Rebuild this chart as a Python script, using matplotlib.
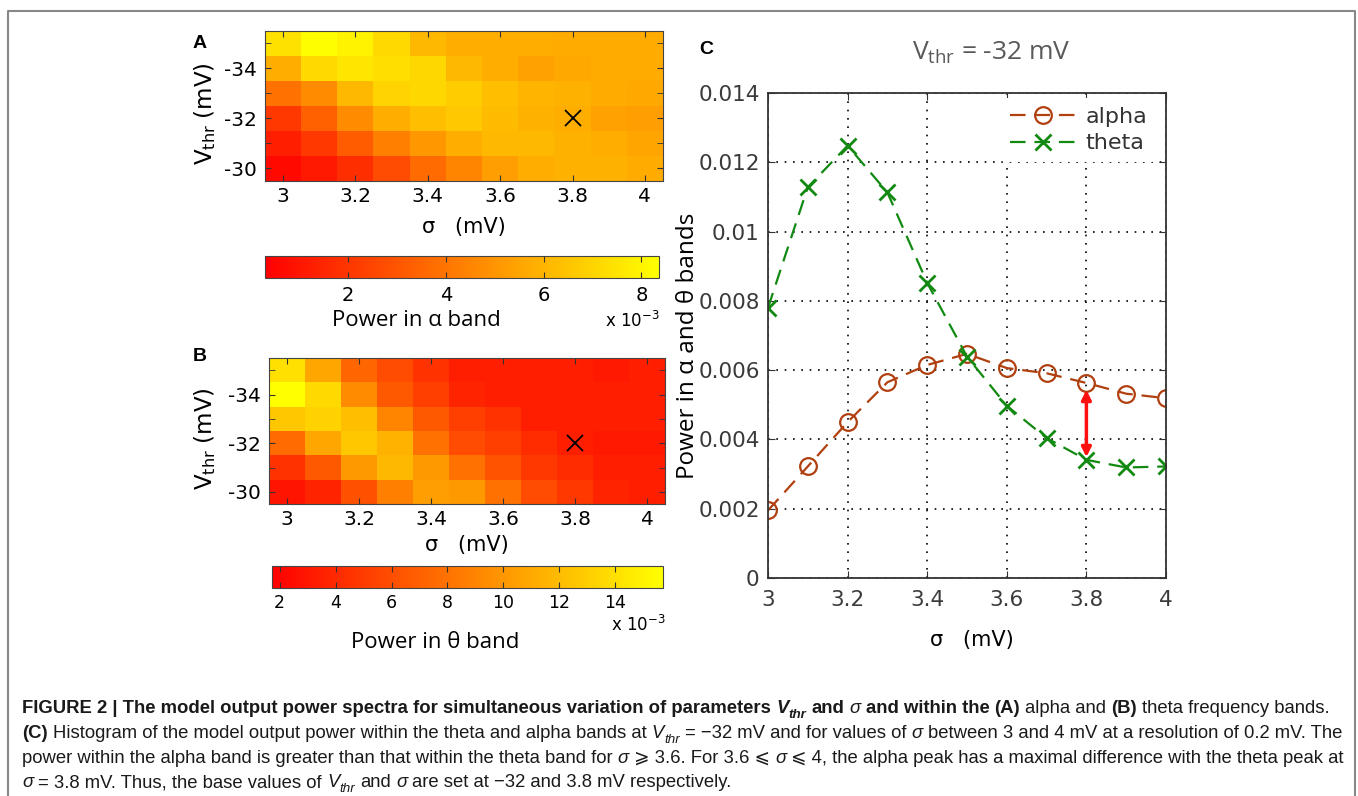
import matplotlib
matplotlib.use('Agg')
import matplotlib.pyplot as plt
from matplotlib.transforms import IdentityTransform
from matplotlib.font_manager import FontProperties
from matplotlib.lines import Line2D

W, H = 1358, 796

# grid of the parameter sweep
sigma = [3.0, 3.1, 3.2, 3.3, 3.4, 3.5, 3.6, 3.7, 3.8, 3.9, 4.0]
vthr = [-35, -34, -33, -32, -31, -30]

# power in alpha band (x 1e-3), rows = vthr, cols = sigma
alpha_map = [
    [7.4, 8.3, 8.0, 7.15, 6.1, 5.8, 5.8, 5.8, 5.7, 5.7, 5.7],
    [5.8, 7.15, 7.55, 7.3, 7.1, 6.1, 5.8, 5.4, 5.6, 5.7, 5.7],
    [3.9, 4.7, 6.1, 7.0, 7.1, 6.75, 6.3, 6.0, 5.9, 5.7, 5.6],
    [2.1, 3.4, 4.7, 5.8, 6.3, 6.6, 6.2, 5.9, 5.8, 5.4, 5.3],
    [1.3, 2.1, 3.2, 4.3, 5.1, 5.8, 6.1, 6.1, 5.9, 5.8, 5.5],
    [0.6, 1.1, 1.75, 2.7, 3.7, 4.5, 5.3, 5.8, 5.9, 5.9, 5.7],
]
# power in theta band (x 1e-3)
theta_map = [
    [14.0, 10.8, 7.3, 5.9, 4.5, 3.4, 3.4, 3.4, 3.4, 3.1, 3.4],
    [15.7, 13.6, 9.4, 6.6, 5.2, 3.8, 3.4, 3.4, 3.4, 3.4, 3.4],
    [12.6, 13.2, 12.2, 9.0, 6.6, 5.2, 4.5, 3.4, 3.4, 3.4, 3.4],
    [7.6, 10.8, 12.6, 11.5, 8.0, 5.9, 5.2, 4.2, 3.4, 3.1, 3.1],
    [4.5, 6.6, 10.1, 11.8, 10.1, 8.0, 6.3, 4.8, 4.2, 3.4, 3.4],
    [2.85, 3.8, 6.2, 8.7, 10.4, 10.1, 8.0, 5.9, 4.8, 3.8, 3.4],
]
alpha_range = (0.3, 8.36)
theta_range = (1.73, 15.7)

# panel C, Vthr = -32 mV
alpha_line = [0.00195, 0.00322, 0.0045, 0.00565, 0.00615, 0.00647, 0.00606, 0.00591, 0.00563, 0.00532, 0.00519]
theta_line = [0.0078, 0.01128, 0.01248, 0.01113, 0.00852, 0.00639, 0.00497, 0.00404, 0.00341, 0.00319, 0.00322]

base_sigma = 3.8
base_vthr = -32

map_xticks = [3, 3.2, 3.4, 3.6, 3.8, 4]
map_yticks = [-34, -32, -30]
cbar_a_ticks = [2, 4, 6, 8]
cbar_b_ticks = [2, 4, 6, 8, 10, 12, 14]
c_xticks = [3, 3.2, 3.4, 3.6, 3.8, 4]
c_yticks = [0, 0.002, 0.004, 0.006, 0.008, 0.01, 0.012, 0.014]

fig = plt.figure(figsize=(W / 100, H / 100), dpi=100)


def px_axes(x0, y0, x1, y1):
    return fig.add_axes([x0 / W, 1 - y1 / H, (x1 - x0) / W, (y1 - y0) / H])


def ftext(x, y, s, **kw):
    return fig.text(x / W, 1 - y / H, s, **kw)


def draw_map(ax, data, rng, xlab_y, ylab_x):
    im = ax.imshow(data, cmap='autumn', vmin=rng[0], vmax=rng[1], aspect='auto',
                   interpolation='nearest',
                   extent=[sigma[0] - 0.05, sigma[-1] + 0.05, vthr[-1] + 0.5, vthr[0] - 0.5])
    ax.set_xticks(map_xticks)
    ax.set_xticklabels(['%g' % v for v in map_xticks])
    ax.set_yticks(map_yticks)
    ax.set_yticklabels(['%g' % v for v in map_yticks])
    ax.set_yticks(vthr, minor=True)
    ax.tick_params(which='both', direction='in', top=True, right=True, length=4,
                   color='#333333', labelsize=14.5)
    ax.tick_params(axis='x', pad=4)
    ax.tick_params(axis='y', pad=6)
    for sp in ax.spines.values():
        sp.set_color('#444444')
    ax.plot(base_sigma, base_vthr, marker='x', ms=11, mew=1.3, color='k', ls='none')
    ax.set_xlabel('σ   (mV)', fontsize=15, va='center')
    ax.xaxis.set_label_coords(0.5, xlab_y)
    ax.set_ylabel(r'V$_{\mathregular{thr}}$ (mV)', fontsize=16.5, va='center')
    ax.yaxis.set_label_coords(ylab_x, 0.45)
    return im


def draw_cbar(im, box, ticks, size, pad):
    cax = px_axes(*box)
    cb = fig.colorbar(im, cax=cax, orientation='horizontal')
    cb.set_ticks(ticks)
    cb.set_ticklabels(['%g' % t for t in ticks])
    cax.tick_params(direction='in', top=True, bottom=True, length=4, color='#333333',
                    labelsize=size, pad=pad)
    cb.outline.set_edgecolor('#444444')
    return cb


# panel A
axA = px_axes(265, 31, 663, 181)
imA = draw_map(axA, alpha_map, alpha_range, -0.31, -0.151)
draw_cbar(imA, (265, 256, 659, 278), cbar_a_ticks, 14, 6)
ftext(416, 321, 'Power in α band', fontsize=16, family='Open Sans', ha='center', va='center')
ftext(632, 321, r'x 10$^{\mathregular{-3}}$', fontsize=12, ha='center', va='center')

# panel B
axB = px_axes(269, 358, 665, 504)
imB = draw_map(axB, theta_map, theta_range, -0.28, -0.162)
draw_cbar(imB, (272, 566, 663, 588), cbar_b_ticks, 12.5, 4)
ftext(638, 625, r'x 10$^{\mathregular{-3}}$', fontsize=12, ha='center', va='center')
ftext(435, 643, 'Power in θ band', fontsize=16, family='Open Sans', ha='center', va='center')

ftext(200, 44, 'A', fontsize=14, fontweight='bold', family='Liberation Sans', ha='center', va='center')
ftext(200, 356, 'B', fontsize=14, fontweight='bold', family='Liberation Sans', ha='center', va='center')
ftext(706, 50, 'C', fontsize=14, fontweight='bold', family='Liberation Sans', ha='center', va='center')

# panel C
axC = px_axes(768, 93, 1166, 578)
axC.plot(sigma, alpha_line, color='#B0400F', ls=(0, (7, 4)), lw=1.6, marker='o', ms=12,
         mfc='none', mew=1.6, label='alpha')
axC.plot(sigma, theta_line, color='#128A12', ls=(0, (7, 4)), lw=1.6, marker='x', ms=11,
         mew=2, label='theta')
i = sigma.index(base_sigma)
axC.annotate('', xy=(base_sigma, alpha_line[i]), xytext=(base_sigma, theta_line[i]),
             arrowprops=dict(arrowstyle='<|-|>', color='#FF1010', lw=2.5,
                             mutation_scale=14, shrinkA=2, shrinkB=5))
axC.set_xlim(sigma[0], sigma[-1])
axC.set_ylim(c_yticks[0], c_yticks[-1])
axC.set_xticks(c_xticks)
axC.set_xticklabels(['%g' % v for v in c_xticks])
axC.set_yticks(c_yticks)
axC.set_yticklabels(['%g' % v for v in c_yticks])
axC.grid(True, ls=(0, (1, 4)), color='k', lw=1.2)
axC.tick_params(direction='in', top=True, right=True, length=5, labelsize=15.5,
                labelcolor='#3a3a3a', color='#333333')
axC.tick_params(axis='x', pad=9)
axC.tick_params(axis='y', pad=6)
for sp in axC.spines.values():
    sp.set_color('#333333')
    sp.set_linewidth(1.3)
axC.set_xlabel('σ   (mV)', fontsize=15, va='center')
axC.xaxis.set_label_coords(0.513, -0.128)
axC.set_ylabel('Power in α and θ bands', fontsize=17.5, family='Open Sans', va='center')
axC.yaxis.set_label_coords(-0.201, 0.478)
leg = axC.legend(loc='upper right', bbox_to_anchor=(0.975, 0.99), borderaxespad=0,
                 fontsize=16, handlelength=3, frameon=True, framealpha=1,
                 edgecolor='none', facecolor='white', labelspacing=0.3, handletextpad=0.4)
for t in leg.get_texts():
    t.set_color('#333333')
ftext(991, 53, r'V$_{\mathregular{thr}}$ = -32 mV', fontsize=19, family='Open Sans',
      color='#595959', ha='center', va='center')

# frame around figure + caption
fig.add_artist(Line2D([8 / W, 8 / W, 1355 / W, 1355 / W], [0, 1 - 11 / H, 1 - 11 / H, 0],
                      transform=fig.transFigure, color='#888888', lw=1.5))

# caption, drawn run by run
cap_size = 13.35
cap_lines = [
    [("FIGURE 2 | The model output power spectra for simultaneous variation of parameters ", 'b'),
     ("V", 'bi'), ("thr", 'bis'), (" and ", 'b'), ("σ", 'i'), (" and within the ", 'b'),
     ("(A)", 'b'), (" alpha and ", 'r'), ("(B)", 'b'), (" theta frequency bands.", 'r')],
    [("(C)", 'b'), (" Histogram of the model output power within the theta and alpha bands at ", 'r'),
     ("V", 'i'), ("thr", 'is'), (" = −32 mV and for values of ", 'r'), ("σ", 'i'),
     (" between 3 and 4 mV at a resolution of 0.2 mV. The", 'r')],
    [("power within the alpha band is greater than that within the theta band for ", 'r'),
     ("σ", 'i'), (" ⩾ 3.6. For 3.6 ⩽ ", 'r'), ("σ", 'i'),
     (" ⩽ 4, the alpha peak has a maximal difference with the theta peak at", 'r')],
    [("σ", 'i'), (" = 3.8 mV. Thus, the base values of ", 'r'), ("V", 'i'), ("thr", 'is'),
     (" and ", 'r'), ("σ", 'i'), (" are set at −32 and 3.8 mV respectively.", 'r')],
]
cap_baselines = [713, 738, 763, 787]

renderer = fig.canvas.get_renderer()


def advance(s, prop):
    w1 = renderer.get_text_width_height_descent('|' + s + '|', prop, ismath=False)[0]
    w0 = renderer.get_text_width_height_descent('||', prop, ismath=False)[0]
    return w1 - w0


for runs, yb in zip(cap_lines, cap_baselines):
    x = 22
    for s, st in runs:
        size = cap_size * 0.72 if 's' in st else cap_size
        dy = -cap_size * 0.35 if 's' in st else 0
        prop = FontProperties(family=['Liberation Sans', 'DejaVu Sans'], size=size,
                              weight='bold' if 'b' in st else 'normal',
                              style='italic' if 'i' in st else 'normal')
        lead = len(s) - len(s.lstrip())
        fig.text(x + advance(' ' * lead, prop) if lead else x, H - yb + dy, s.strip(),
                 fontproperties=prop, transform=IdentityTransform(), va='baseline',
                 color='#1a1a1a')
        x += advance(s, prop)

fig.savefig('out.png', dpi=100)
